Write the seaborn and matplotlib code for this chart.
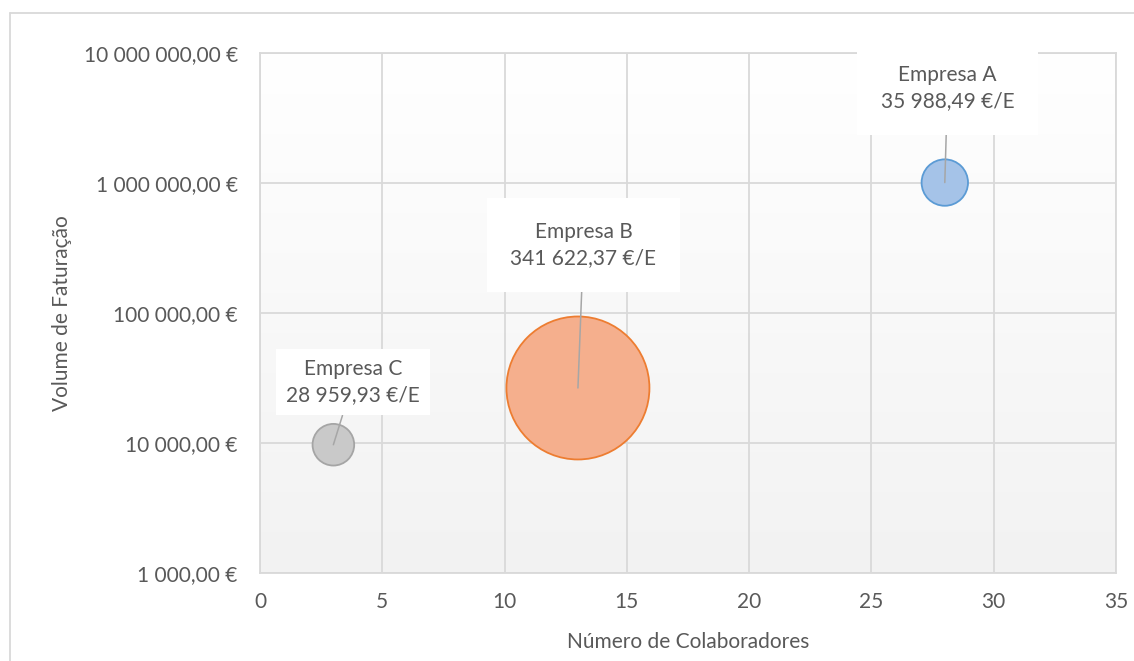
import numpy as np
import pandas as pd
import matplotlib
matplotlib.use("Agg")
import matplotlib.pyplot as plt
from matplotlib.ticker import FixedLocator, FuncFormatter, NullLocator
from matplotlib.lines import Line2D
import seaborn as sns

# ---- data ----
empresas = ["Empresa A", "Empresa B", "Empresa C"]
colaboradores = [28, 13, 3]
faturacao = [1_007_678, 26_500, 9_700]
fat_por_colab = [35988.49, 341622.37, 28959.93]
x_ticks = [0, 5, 10, 15, 20, 25, 30, 35]
y_ticks = [1_000, 10_000, 100_000, 1_000_000, 10_000_000]

fill_colors = {"Empresa A": "#A5C3E8", "Empresa B": "#F5AF8D", "Empresa C": "#C9C9C9"}
edge_colors = {"Empresa A": "#5B9BD5", "Empresa B": "#ED7D31", "Empresa C": "#A5A5A5"}

df = pd.DataFrame({"empresa": empresas, "colab": colaboradores,
                   "fat": faturacao, "fpc": fat_por_colab})

sns.set_style("white")
plt.rcParams["font.family"] = ["Lato", "DejaVu Sans"]
TXT = "#595959"
GRID = "#D9D9D9"
FS = 15

W, H = 1134, 661
fig = plt.figure(figsize=(W / 100, H / 100), dpi=100)
fig.patch.set_facecolor("white")
ax = fig.add_axes([260 / W, 1 - 573 / H, (1116 - 260) / W, (573 - 53) / H])

# gradient plot area background
grad = np.linspace(1.0, 0.949, 256).reshape(-1, 1)
ax.imshow(np.dstack([grad, grad, grad]), extent=[0, 1, 0, 1], transform=ax.transAxes,
          aspect="auto", zorder=-5, interpolation="bilinear")

smax = 10600
sns.scatterplot(data=df, x="colab", y="fat", hue="empresa", palette=fill_colors,
                size="fpc", sizes=(0, smax), size_norm=(0, max(fat_por_colab)),
                legend=False, ax=ax, zorder=3, linewidth=1.3, edgecolor="none")
coll = ax.collections[-1]
coll.set_edgecolor([edge_colors[e] for e in df["empresa"]])
coll.set_linewidth(1.3)

ax.set_yscale("log")
ax.set_xlim(0, 35)
ax.set_ylim(1_000, 10_000_000)
ax.xaxis.set_major_locator(FixedLocator(x_ticks))
ax.yaxis.set_major_locator(FixedLocator(y_ticks))
ax.yaxis.set_minor_locator(NullLocator())


def eur(v, pos=None):
    s = f"{v:,.2f}".replace(",", " ").replace(".", ",")
    return s + " €"


ax.yaxis.set_major_formatter(FuncFormatter(eur))
ax.xaxis.set_major_formatter(FuncFormatter(lambda v, p: f"{int(v)}"))
ax.grid(True, color=GRID, linewidth=1.3, zorder=0)
ax.set_axisbelow(True)
for sp in ax.spines.values():
    sp.set_color(GRID)
    sp.set_linewidth(1.3)
ax.tick_params(axis="both", length=0, labelsize=FS, labelcolor=TXT)
ax.tick_params(axis="y", pad=16)
ax.tick_params(axis="x", pad=14)
ax.set_xlabel("Número de Colaboradores", fontsize=FS, color=TXT, labelpad=14)
ax.set_ylabel("Volume de Faturação", fontsize=FS, color=TXT, labelpad=8)

# data labels with leader lines (offsets in points)
offsets = {"Empresa A": (2, 68), "Empresa B": (4, 103), "Empresa C": (14, 45)}
pads = {"Empresa A": 1.15, "Empresa B": 1.15, "Empresa C": 0.5}
for e, xv, yv, v in zip(empresas, colaboradores, faturacao, fat_por_colab):
    lbl = f"{e}\n{v:,.2f} €/E".replace(",", " ").replace(".", ",")
    ax.annotate(lbl, xy=(xv, yv), xytext=offsets[e], textcoords="offset points",
                ha="center", va="center", fontsize=FS, color=TXT, linespacing=1.35,
                bbox=dict(boxstyle=f"square,pad={pads[e]}", fc="white", ec="none"),
                arrowprops=dict(arrowstyle="-", color="#A6A6A6", lw=1.1,
                                shrinkA=0, shrinkB=0),
                zorder=5, annotation_clip=False)

# outer chart border (left and top visible)
fig.add_artist(Line2D([10 / W, 10 / W], [0, 1 - 13 / H], transform=fig.transFigure,
                      color=GRID, lw=1.3))
fig.add_artist(Line2D([10 / W, 1], [1 - 13 / H, 1 - 13 / H], transform=fig.transFigure,
                      color=GRID, lw=1.3))

fig.savefig("out.png", dpi=100)
